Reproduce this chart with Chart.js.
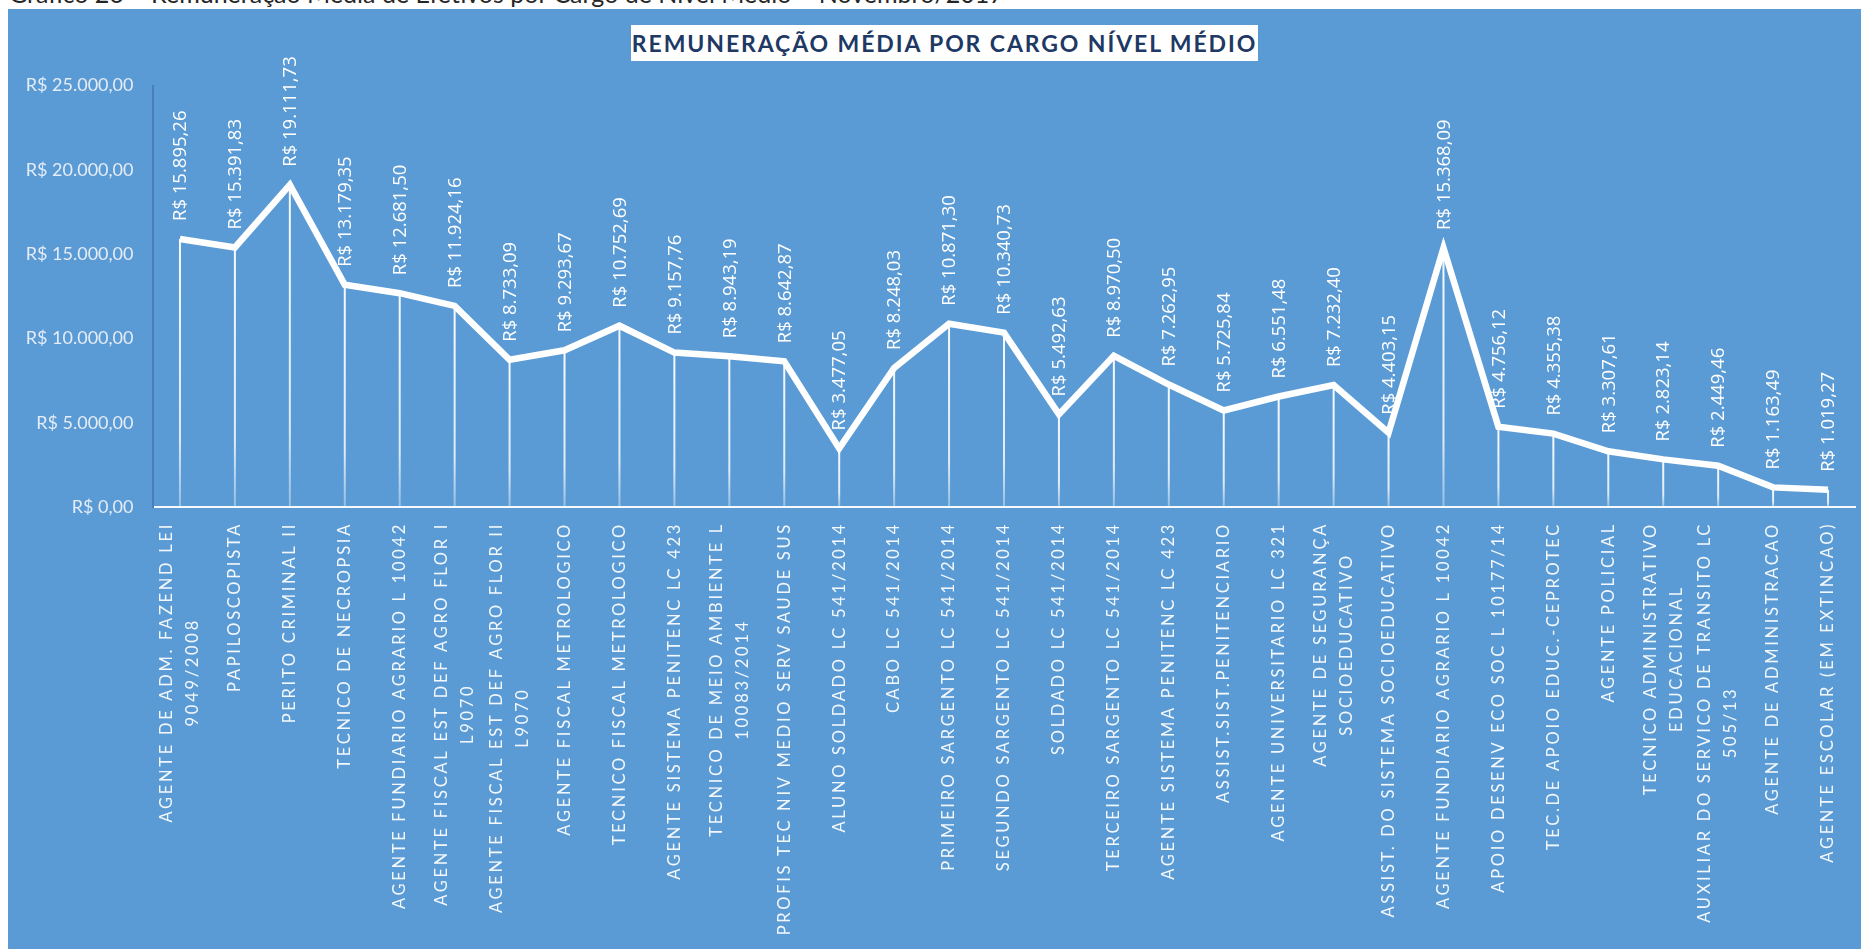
<!DOCTYPE html>
<html lang="pt-BR">
<head>
<meta charset="utf-8">
<script src="https://cdn.jsdelivr.net/npm/chart.js@4.4.1/dist/chart.umd.min.js"></script>
<style>
  html, body { margin: 0; padding: 0; background: #ffffff; width: 1861px; height: 949px; overflow: hidden; }
  #caption { position: absolute; left: 9px; top: -19px; font-family: Lato, "Open Sans", sans-serif; font-size: 25px; line-height: 25px; color: #262626; white-space: nowrap; z-index: 0; }
  #panel { position: absolute; left: 8px; top: 9px; right: 0; bottom: 0; background: #5B9BD5; z-index: 1; }
  #wrap { position: absolute; left: 0; top: 0; width: 1861px; height: 949px; z-index: 2; }
  #title { position: absolute; left: 631px; top: 25px; width: 627px; height: 36px; background: #ffffff; z-index: 3;
           display: flex; align-items: center; justify-content: center; font-family: Lato, "Open Sans", sans-serif; font-weight: 700;
           font-size: 23px; letter-spacing: 1.9px; color: #203864; white-space: nowrap; }
</style>
</head>
<body>
<div id="caption">Gráfico 26 – Remuneração Média de Efetivos por Cargo de Nível Médio – Novembro/2017</div>
<div id="panel"></div>
<div id="wrap"><canvas id="c" width="1861" height="949"></canvas></div>
<div id="title">REMUNERAÇÃO MÉDIA POR CARGO NÍVEL MÉDIO</div>
<script>
// ---- Data ----
const categories = [
  ['AGENTE DE ADM. FAZEND LEI', '9049/2008'],
  ['PAPILOSCOPISTA'],
  ['PERITO CRIMINAL II'],
  ['TECNICO DE NECROPSIA'],
  ['AGENTE FUNDIARIO AGRARIO L 10042'],
  ['AGENTE FISCAL EST DEF AGRO FLOR I', 'L9070'],
  ['AGENTE FISCAL EST DEF AGRO FLOR II', 'L9070'],
  ['AGENTE FISCAL METROLOGICO'],
  ['TECNICO FISCAL METROLOGICO'],
  ['AGENTE SISTEMA PENITENC LC 423'],
  ['TECNICO DE MEIO AMBIENTE L', '10083/2014'],
  ['PROFIS TEC NIV MEDIO SERV SAUDE SUS'],
  ['ALUNO SOLDADO LC 541/2014'],
  ['CABO LC 541/2014'],
  ['PRIMEIRO SARGENTO LC 541/2014'],
  ['SEGUNDO SARGENTO LC 541/2014'],
  ['SOLDADO LC 541/2014'],
  ['TERCEIRO SARGENTO LC 541/2014'],
  ['AGENTE SISTEMA PENITENC LC 423'],
  ['ASSIST.SIST.PENITENCIARIO'],
  ['AGENTE UNIVERSITARIO LC 321'],
  ['AGENTE DE SEGURANÇA', 'SOCIOEDUCATIVO'],
  ['ASSIST. DO SISTEMA SOCIOEDUCATIVO'],
  ['AGENTE FUNDIARIO AGRARIO L 10042'],
  ['APOIO DESENV ECO SOC L 10177/14'],
  ['TEC.DE APOIO EDUC.-CEPROTEC'],
  ['AGENTE POLICIAL'],
  ['TECNICO ADMINISTRATIVO', 'EDUCACIONAL'],
  ['AUXILIAR DO SERVICO DE TRANSITO LC', '505/13'],
  ['AGENTE DE ADMINISTRACAO'],
  ['AGENTE ESCOLAR (EM EXTINCAO)']
];
const remuneracaoMedia = [
  15895.26, 15391.83, 19111.73, 13179.35, 12681.50, 11924.16, 8733.09, 9293.67, 10752.69, 9157.76,
  8943.19, 8642.87, 3477.05, 8248.03, 10871.30, 10340.73, 5492.63, 8970.50, 7262.95, 5725.84,
  6551.48, 7232.40, 4403.15, 15368.09, 4756.12, 4355.38, 3307.61, 2823.14, 2449.46, 1163.49, 1019.27
];
const yTicks = [0, 5000, 10000, 15000, 20000, 25000];

const brl = v => 'R$ ' + v.toLocaleString('pt-BR', { minimumFractionDigits: 2, maximumFractionDigits: 2 });

// ---- Plugins ----
const dropLines = {
  id: 'dropLines',
  beforeDatasetsDraw(chart) {
    const ctx = chart.ctx;
    const meta = chart.getDatasetMeta(0);
    const bottom = chart.chartArea.bottom;
    ctx.save();
    meta.data.forEach(pt => {
      const g = ctx.createLinearGradient(0, pt.y, 0, bottom);
      g.addColorStop(0, 'rgba(255,255,255,0.95)');
      g.addColorStop(0.75, 'rgba(255,255,255,0.8)');
      g.addColorStop(1, 'rgba(255,255,255,0.35)');
      ctx.strokeStyle = g;
      ctx.lineWidth = 2;
      ctx.beginPath();
      ctx.moveTo(pt.x, pt.y);
      ctx.lineTo(pt.x, bottom);
      ctx.stroke();
    });
    ctx.restore();
  }
};

const dataLabels = {
  id: 'dataLabels',
  afterDatasetsDraw(chart) {
    const ctx = chart.ctx;
    const meta = chart.getDatasetMeta(0);
    const vals = chart.data.datasets[0].data;
    ctx.save();
    ctx.font = '18.5px "Open Sans", sans-serif';
    ctx.fillStyle = '#ffffff';
    ctx.textAlign = 'left';
    ctx.textBaseline = 'middle';
    meta.data.forEach((pt, i) => {
      ctx.save();
      ctx.translate(pt.x + 1, pt.y);
      ctx.rotate(-Math.PI / 2);
      ctx.fillText(brl(vals[i]), 18, 0);
      ctx.restore();
    });
    ctx.restore();
  }
};

const xLabels = {
  id: 'xLabels',
  afterDraw(chart) {
    const ctx = chart.ctx;
    const xs = chart.scales.x;
    const top = chart.chartArea.bottom + 15;
    const lh = 26;
    ctx.save();
    ctx.font = '16.5px Lato, "Open Sans", sans-serif';
    ctx.fillStyle = 'rgba(255,255,255,0.92)';
    ctx.textBaseline = 'middle';
    ctx.textAlign = 'center';
    ctx.letterSpacing = '2.7px';
    chart.data.labels.forEach((lines, i) => {
      const x = xs.getPixelForValue(i);
      const maxW = Math.max(...lines.map(l => ctx.measureText(l).width));
      ctx.save();
      ctx.translate(x, top);
      ctx.rotate(-Math.PI / 2);
      lines.forEach((l, j) => {
        ctx.fillText(l, -maxW / 2, (j - (lines.length - 1) / 2) * lh);
      });
      ctx.restore();
    });
    ctx.restore();
  }
};

new Chart(document.getElementById('c'), {
  type: 'line',
  data: {
    labels: categories,
    datasets: [{
      data: remuneracaoMedia,
      borderColor: '#ffffff',
      borderWidth: 6.5,
      borderJoinStyle: 'miter',
      pointRadius: 0,
      tension: 0,
      fill: false
    }]
  },
  options: {
    responsive: false,
    animation: false,
    devicePixelRatio: 1,
    layout: { padding: { top: 85.5, right: 5.5, left: 0, bottom: 0 } },
    plugins: { legend: { display: false }, tooltip: { enabled: false }, title: { display: false } },
    scales: {
      x: {
        type: 'category',
        offset: true,
        grid: { display: false, drawTicks: false },
        border: { display: true, color: 'rgba(255,255,255,0.95)', width: 2 },
        ticks: { display: false },
        afterFit: s => { s.height = 442; }
      },
      y: {
        min: 0, max: 25000,
        grid: { display: false, drawTicks: false },
        border: { display: true, color: '#4a7cc4', width: 2 },
        afterBuildTicks: s => { s.ticks = yTicks.map(v => ({ value: v })); },
        afterFit: s => { s.width = 152.5; },
        ticks: {
          padding: 19,
          color: '#e4ecf6',
          font: { family: 'Lato, "Open Sans", sans-serif', size: 18 },
          callback: v => brl(v)
        }
      }
    }
  },
  plugins: [dropLines, dataLabels, xLabels]
});
</script>
</body>
</html>
